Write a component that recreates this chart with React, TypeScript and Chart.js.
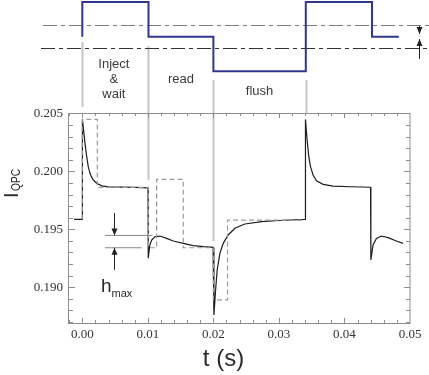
import React, { useEffect, useRef } from "react";
import { Chart, registerables } from "chart.js";

Chart.register(...registerables);

// ---- data ----
const signalT = [-0.00127, 0, 0.00002, 0.00041, 0.00067, 0.00091, 0.00117, 0.00142, 0.00168, 0.0022, 0.00296, 0.004, 0.006, 0.008, 0.01003, 0.01006, 0.0103, 0.01058, 0.01108, 0.01184, 0.01287, 0.01387, 0.0154, 0.01692, 0.0185, 0.01995, 0.02008, 0.02034, 0.02058, 0.02099, 0.0215, 0.02226, 0.02328, 0.0248, 0.02735, 0.03, 0.034, 0.03405, 0.0343, 0.03456, 0.03482, 0.03521, 0.03573, 0.03674, 0.03826, 0.041, 0.04398, 0.04403, 0.04436, 0.04488, 0.04564, 0.04665, 0.04793, 0.04893];
const signalI = [0.19586, 0.19586, 0.20448, 0.20241, 0.20126, 0.2004, 0.19983, 0.1995, 0.19925, 0.19897, 0.19875, 0.19866, 0.19863, 0.19861, 0.19858, 0.1925, 0.19365, 0.19408, 0.19436, 0.19442, 0.19422, 0.19399, 0.19379, 0.19359, 0.1935, 0.19345, 0.18761, 0.18977, 0.19149, 0.19293, 0.19379, 0.19451, 0.19509, 0.19546, 0.19566, 0.19576, 0.19586, 0.20448, 0.2027, 0.20126, 0.2004, 0.19968, 0.19919, 0.19888, 0.19873, 0.19867, 0.19863, 0.19235, 0.19365, 0.19422, 0.19442, 0.19428, 0.19399, 0.19379];

const idealT = [0, 0, 0.00229, 0.00229, 0.0101, 0.0101, 0.01134, 0.01134, 0.0154, 0.0154, 0.02, 0.02, 0.02216, 0.02216, 0.034];
const idealI = [0.19586, 0.20448, 0.20448, 0.19862, 0.19862, 0.19341, 0.19341, 0.19931, 0.19931, 0.19341, 0.19341, 0.18891, 0.18891, 0.1958, 0.1958];

const hmaxUpperT = [0.00346, 0.01073];
const hmaxUpperI = [0.19447, 0.19447];
const hmaxLowerT = [0.00346, 0.00905];
const hmaxLowerI = [0.19341, 0.19341];
const hmaxArrowT = 0.00485;
const hmaxArrowDownI = [0.19641, 0.19447];
const hmaxArrowUpI = [0.1915, 0.19341];

const phaseT = [0, 0.0101, 0.02, 0.0341];
const phaseLabels = [["Inject", "&", "wait"], ["read"], ["flush"]];

const gateT = [0, 0.0101, 0.02, 0.0341, 0.0442, 0.0483];
const gateLevels = [1, 0, -1, 1, 0];

const xTicks = [0, 0.01, 0.02, 0.03, 0.04, 0.05];
const yTicks = [0.19, 0.195, 0.2, 0.205];

const xTitle = "t (s)";
const yTitleMain = "I";
const yTitleSub = "QPC";

const pts = (t: number[], v: number[]) => t.map((x, i) => ({ x, y: v[i] }));

const SANS = "Arial, 'Liberation Sans', sans-serif";
const SERIF = "'Liberation Serif', 'Times New Roman', serif";

const arrow = (ctx: CanvasRenderingContext2D, x: number, y0: number, y1: number) => {
  ctx.beginPath();
  ctx.moveTo(x, y0);
  ctx.lineTo(x, y1);
  ctx.stroke();
  const dir = y1 > y0 ? 1 : -1;
  ctx.beginPath();
  ctx.moveTo(x, y1);
  ctx.lineTo(x - 3, y1 - dir * 7);
  ctx.lineTo(x + 3, y1 - dir * 7);
  ctx.closePath();
  ctx.fill();
};

const decorPlugin = {
  id: "decor",
  beforeDatasetsDraw(chart: any) {
    const { ctx, chartArea, scales } = chart;
    const { left, right, top, bottom } = chartArea;
    const xs = scales.x;
    const ys = scales.y;
    ctx.save();
    // phase marker lines
    const ends = [[42, 107], [46, 180], [80, 241], [80, 114]];
    ctx.strokeStyle = "#c4c4c4";
    ctx.lineWidth = 2;
    phaseT.forEach((t, i) => {
      const px = Math.round(xs.getPixelForValue(t)) + 0.5;
      ctx.beginPath();
      ctx.moveTo(px, ends[i][0]);
      ctx.lineTo(px, ends[i][1]);
      ctx.stroke();
    });
    // frame
    ctx.strokeStyle = "#8e8e8e";
    ctx.lineWidth = 1;
    ctx.strokeRect(left - 0.5, top + 0.5, right - left + 0.5, bottom - top);
    // ticks
    ctx.beginPath();
    for (let i = -1; i <= 25; i++) {
      const v = i * 0.002;
      const px = Math.round(xs.getPixelForValue(v)) + 0.5;
      if (px < left || px > right) continue;
      const len = i % 5 === 0 ? 5 : 3;
      ctx.moveTo(px, bottom);
      ctx.lineTo(px, bottom - len);
      ctx.moveTo(px, top);
      ctx.lineTo(px, top + len);
    }
    for (let i = 187; i <= 205; i++) {
      const v = i / 1000;
      const py = Math.round(ys.getPixelForValue(v)) + 0.5;
      const len = i % 5 === 0 ? 6 : 4;
      ctx.moveTo(left, py);
      ctx.lineTo(left + len, py);
      ctx.moveTo(right, py);
      ctx.lineTo(right - len, py);
    }
    ctx.stroke();
    ctx.restore();
  },
  afterDraw(chart: any) {
    const { ctx, scales } = chart;
    const xs = scales.x;
    const ys = scales.y;
    ctx.save();
    // dash-dot reference lines
    ctx.lineWidth = 1.2;
    ctx.setLineDash([14, 4, 4, 4]);
    ctx.strokeStyle = "#7c7c7c";
    ctx.beginPath();
    ctx.moveTo(43, 25.5);
    ctx.lineTo(429, 25.5);
    ctx.stroke();
    ctx.strokeStyle = "#333";
    ctx.beginPath();
    ctx.moveTo(41, 48.5);
    ctx.lineTo(429, 48.5);
    ctx.stroke();
    ctx.setLineDash([]);
    // gate step line
    const lvl = (l: number) => 36.7 - l * 34.6;
    ctx.strokeStyle = "#2f3790";
    ctx.lineWidth = 2;
    ctx.beginPath();
    ctx.moveTo(xs.getPixelForValue(gateT[0]), lvl(0));
    gateLevels.forEach((l, i) => {
      ctx.lineTo(xs.getPixelForValue(gateT[i]), lvl(l));
      ctx.lineTo(xs.getPixelForValue(gateT[i + 1]), lvl(l));
    });
    ctx.stroke();
    // right arrows
    ctx.strokeStyle = "#222";
    ctx.fillStyle = "#222";
    ctx.lineWidth = 1;
    arrow(ctx, 419.5, 26, 34);
    arrow(ctx, 419.5, 59, 39);
    // phase labels
    ctx.fillStyle = "#3a3a3a";
    ctx.font = `13px ${SANS}`;
    ctx.textAlign = "center";
    ctx.textBaseline = "alphabetic";
    const labelY = [67.5, 82.5, 94.5];
    phaseLabels.forEach((lines, i) => {
      const cx = (xs.getPixelForValue(phaseT[i]) + xs.getPixelForValue(phaseT[i + 1])) / 2;
      lines.forEach((s, j) => {
        ctx.fillText(s, i === 0 ? cx - 1.5 : cx, labelY[i] + j * 15);
      });
    });
    // hmax arrows
    ctx.strokeStyle = "#222";
    ctx.fillStyle = "#222";
    const ax = Math.round(xs.getPixelForValue(hmaxArrowT)) + 0.5;
    arrow(ctx, ax, ys.getPixelForValue(hmaxArrowDownI[0]), ys.getPixelForValue(hmaxArrowDownI[1]));
    arrow(ctx, ax, ys.getPixelForValue(hmaxArrowUpI[0]), ys.getPixelForValue(hmaxArrowUpI[1]));
    // hmax text
    ctx.textAlign = "left";
    ctx.fillStyle = "#2a2a2a";
    ctx.font = `19px ${SANS}`;
    ctx.fillText("h", 101, 291.5);
    ctx.font = `11px ${SANS}`;
    ctx.fillText("max", 111.5, 296.5);
    // axis titles
    ctx.fillStyle = "#2a2a2a";
    ctx.font = `24px ${SANS}`;
    ctx.textAlign = "center";
    ctx.fillText(xTitle, 223.5, 366);
    ctx.save();
    ctx.translate(18, 198);
    ctx.rotate(-Math.PI / 2);
    ctx.textAlign = "left";
    ctx.font = `20px ${SANS}`;
    ctx.fillText(yTitleMain, 0, 0);
    ctx.translate(7, 2);
    ctx.scale(0.78, 1);
    ctx.font = `13px ${SANS}`;
    ctx.fillText(yTitleSub, 0, 0);
    ctx.restore();
    ctx.restore();
  },
};

export default function App() {
  const ref = useRef<HTMLCanvasElement | null>(null);
  useEffect(() => {
    if (!ref.current) return;
    const chart = new Chart(ref.current, {
      type: "line",
      data: {
        datasets: [
          { data: pts(idealT, idealI), borderColor: "#9c9c9c", borderWidth: 1.2, borderDash: [5, 3], pointRadius: 0, tension: 0 },
          { data: pts(hmaxUpperT, hmaxUpperI), borderColor: "#8a8a8a", borderWidth: 1, pointRadius: 0 },
          { data: pts(hmaxLowerT, hmaxLowerI), borderColor: "#8a8a8a", borderWidth: 1, pointRadius: 0 },
          { data: pts(signalT, signalI), borderColor: "#1e1e1e", borderWidth: 1.2, pointRadius: 0, tension: 0 },
        ],
      },
      options: {
        animation: false,
        responsive: false,
        events: [],
        layout: { padding: { top: 113, right: 19, left: 0, bottom: 0 } },
        plugins: { legend: { display: false }, tooltip: { enabled: false } },
        scales: {
          x: {
            type: "linear",
            min: -0.00203,
            max: 0.05,
            afterBuildTicks: (s: any) => { s.ticks = xTicks.map((v) => ({ value: v })); },
            afterFit: (s: any) => { s.height = 52; },
            grid: { display: false, drawTicks: false },
            border: { display: false },
            ticks: {
              autoSkip: false,
              maxRotation: 0,
              padding: 4,
              color: "#333",
              font: { family: SERIF, size: 13 },
              callback: (v: any) => Number(v).toFixed(2),
            },
          },
          y: {
            type: "linear",
            min: 0.18692,
            max: 0.20503,
            afterBuildTicks: (s: any) => { s.ticks = yTicks.map((v) => ({ value: v })); },
            afterFit: (s: any) => { s.width = 69; },
            grid: { display: false, drawTicks: false },
            border: { display: false },
            ticks: {
              padding: 6,
              color: "#333",
              font: { family: SERIF, size: 13 },
              callback: (v: any) => Number(v).toFixed(3),
            },
          },
        },
      },
      plugins: [decorPlugin],
    } as any);
    return () => chart.destroy();
  }, []);
  return (
    <div style={{ position: "absolute", left: 0, top: 0, width: 429, height: 375, background: "#fff" }}>
      <canvas ref={ref} width={429} height={375} style={{ width: 429, height: 375, display: "block" }} />
    </div>
  );
}
